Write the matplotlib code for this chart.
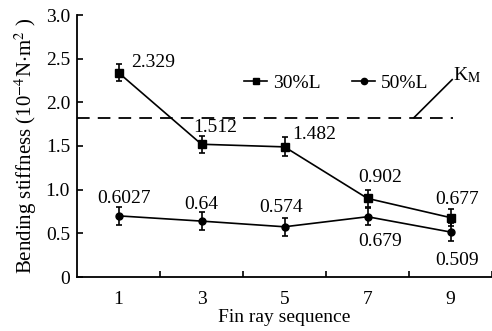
import matplotlib
matplotlib.use("Agg")
import matplotlib.pyplot as plt
from matplotlib.lines import Line2D

# data
fin_ray = [1, 3, 5, 7, 9]
stiff_30 = [2.34, 1.52, 1.49, 0.90, 0.68]
err_30 = [0.10, 0.10, 0.11, 0.10, 0.10]
stiff_50 = [0.70, 0.64, 0.575, 0.69, 0.515]
err_50 = [0.10, 0.10, 0.10, 0.10, 0.10]
labels_30 = ["2.329", "1.512", "1.482", "0.902", "0.677"]
labels_50 = ["0.6027", "0.64", "0.574", "0.679", "0.509"]
k_m = 1.825

plt.rcParams["font.family"] = ["Liberation Serif", "DejaVu Serif"]
plt.rcParams["mathtext.fontset"] = "stix"
FS = 14

fig = plt.figure(figsize=(4.92, 3.31), dpi=100)
ax = fig.add_axes([77 / 492, 54 / 331, 415 / 492, 262 / 331])

ax.errorbar(fin_ray, stiff_30, yerr=err_30, color="black", lw=1.2,
            marker="s", ms=6, capsize=2.5, elinewidth=1.2, capthick=1.2)
ax.errorbar(fin_ray, stiff_50, yerr=err_50, color="black", lw=1.2,
            marker="o", ms=5, capsize=2.5, elinewidth=1.2, capthick=1.2)

# reference line K_M
ax.plot([0, 9.06], [k_m, k_m], color="black", lw=1.3, dashes=(7, 4.5))
ax.plot([8.12, 9.04], [k_m, 2.26], color="black", lw=1.2)
ax.text(9.05, 2.31, r"K$_\mathrm{M}$", fontsize=FS, ha="left", va="center")

# value labels (pixel offsets)
off_30 = [(35, 10), (14, 17), (30, 12), (13, 21), (7, 18)]
off_50 = [(6, 17), (0, 17), (-3, 19), (13, -25), (7, -28)]
for x, y, s, o in zip(fin_ray, stiff_30, labels_30, off_30):
    ax.annotate(s, (x, y), xytext=o, textcoords="offset pixels",
                ha="center", va="center", fontsize=FS)
for x, y, s, o in zip(fin_ray, stiff_50, labels_50, off_50):
    ax.annotate(s, (x, y), xytext=o, textcoords="offset pixels",
                ha="center", va="center", fontsize=FS)

handles = [Line2D([], [], color="black", lw=1.2, marker="s", ms=5),
           Line2D([], [], color="black", lw=1.2, marker="o", ms=4.5)]
ax.legend(handles, ["30%L", "50%L"], loc="center", bbox_to_anchor=(0.625, 0.74),
          ncol=2, frameon=False, fontsize=FS, handlelength=1.2,
          handletextpad=0.3, columnspacing=1.6, numpoints=1,
          borderpad=0, borderaxespad=0)

ax.set_xlim(0, 10)
ax.set_ylim(0, 3.0)
ax.set_xticks([2, 4, 6, 8, 10])
ax.set_xticks(fin_ray, minor=True)
ax.set_xticklabels([])
ax.set_xticklabels(["1", "3", "5", "7", "9"], minor=True)
ax.tick_params(axis="x", which="major", direction="in", length=4, width=1.2)
ax.tick_params(axis="x", which="minor", length=0, pad=10, labelsize=FS)
ax.set_yticks([0, 0.5, 1.0, 1.5, 2.0, 2.5, 3.0])
ax.set_yticklabels(["0", "0.5", "1.0", "1.5", "2.0", "2.5", "3.0"])
ax.tick_params(axis="y", direction="in", length=4, width=1.2, labelsize=FS, pad=5)

for side in ["top", "right"]:
    ax.spines[side].set_visible(False)
for side in ["left", "bottom"]:
    ax.spines[side].set_linewidth(1.3)

ax.set_xlabel("Fin ray sequence", fontsize=FS, labelpad=1)
ax.set_ylabel(r"Bending stiffness (10$^{-4}$N$\cdot$m$^{2}$ )", fontsize=15, labelpad=5)

fig.savefig("out.png", dpi=100)
